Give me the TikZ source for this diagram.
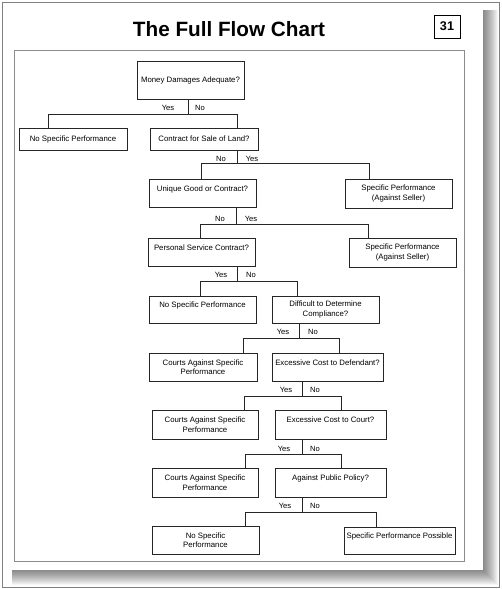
\documentclass[tikz,border=0pt]{standalone}
\usepackage{fontspec}
\setmainfont{Liberation Sans}
\begin{document}
\begin{tikzpicture}[x=1pt,y=-1pt,
  bx/.style={draw=black!85, line width=0.8pt, inner sep=0pt, align=center,
    font=\fontsize{7.8}{9.5}\selectfont, fill=white},
  lbl/.style={font=\fontsize{7.6}{9}\selectfont, inner sep=0pt},
  conn/.style={draw=black!85, line width=0.8pt}]
\useasboundingbox (0,0) rectangle (501,589);
% page shadow
\foreach \k in {1,...,15} \fill[black,opacity=0.041] (12,10) rectangle (483+\k,570+\k);
\fill[white] (2,2) rectangle (483,570);
\draw[black!50, line width=0.8pt] (2,2) rectangle (499.5,587);
% inner frame
\draw[black!45, line width=0.8pt] (14,50) rectangle (464,561);
% title
\node[font=\fontsize{20.7}{24}\selectfont\bfseries, anchor=base, inner sep=0pt] (title) at (229,36) {The Full Flow Chart};
\node[draw, line width=1pt, minimum width=26pt, minimum height=23pt, inner sep=0pt,
  font=\fontsize{12.6}{14}\selectfont\bfseries] (num) at (447,26.5) {31};
% boxes
\node[bx, minimum width=107pt, minimum height=38pt] (q1) at (190.5,80) {Money Damages Adequate?};
\node[bx, minimum width=108pt, minimum height=22pt] (nsp1) at (73,139) {No Specific Performance};
\node[bx, minimum width=108pt, minimum height=22pt] (q2) at (204,139) {Contract for Sale of Land?};
\node[bx, minimum width=107pt, minimum height=28pt] (q3) at (202.5,193) {Unique Good or Contract?\\\mbox{}};
\node[bx, minimum width=107pt, minimum height=29pt] (sp1) at (398.5,193.5) {Specific Performance\\(Against Seller)};
\node[bx, minimum width=107pt, minimum height=28pt] (q4) at (201.5,252) {Personal Service Contract?\\\mbox{}};
\node[bx, minimum width=107pt, minimum height=29pt] (sp2) at (402.5,252.5) {Specific Performance\\(Against Seller)};
\node[bx, minimum width=107pt, minimum height=27pt] (nsp2) at (202.5,309.5) {No Specific Performance\\\mbox{}};
\node[bx, minimum width=107pt, minimum height=27pt] (q5) at (325.5,309.5) {Difficult to Determine\\Compliance?};
\node[bx, minimum width=108pt, minimum height=28pt] (cas1) at (203,367) {Courts Against Specific\\Performance};
\node[bx, minimum width=111pt, minimum height=28pt] (q6) at (327.5,367) {Excessive Cost to Defendant?\\\mbox{}};
\node[bx, minimum width=106pt, minimum height=29pt] (cas2) at (205,424.5) {Courts Against Specific\\Performance};
\node[bx, minimum width=111pt, minimum height=29pt] (q7) at (330.5,424.5) {Excessive Cost to Court?\\\mbox{}};
\node[bx, minimum width=106pt, minimum height=29pt] (cas3) at (205,482.5) {Courts Against Specific\\Performance};
\node[bx, minimum width=111pt, minimum height=29pt] (q8) at (330.5,482.5) {Against Public Policy?\\\mbox{}};
\node[bx, minimum width=107pt, minimum height=28pt] (nsp3) at (205.5,540) {No Specific\\Performance};
\node[bx, minimum width=111pt, minimum height=27pt] (spp) at (399.5,540.5) {Specific Performance Possible\\\mbox{}};
% branch 1
\coordinate (j1) at (188,114); \coordinate (l1) at (48,114); \coordinate (r1) at (237,114);
\draw[conn] (q1.south -| j1) -- (j1);
\draw[conn] (nsp1.north -| l1) -- (l1) -- (r1) -- (q2.north -| r1);
\node[lbl] (y1) at (168,108) {Yes}; \node[lbl] (n1) at (200,108) {No};
% branch 2
\coordinate (j2) at (237,163); \coordinate (l2) at (201,163); \coordinate (r2) at (369,163);
\draw[conn] (q2.south -| j2) -- (j2);
\draw[conn] (q3.north -| l2) -- (l2) -- (r2) -- (sp1.north -| r2);
\node[lbl] (n2) at (221,159) {No}; \node[lbl] (y2) at (252,159) {Yes};
% branch 3
\coordinate (j3) at (236,224); \coordinate (l3) at (200,224); \coordinate (r3) at (368,224);
\draw[conn] (q3.south -| j3) -- (j3);
\draw[conn] (q4.north -| l3) -- (l3) -- (r3) -- (sp2.north -| r3);
\node[lbl] (n3) at (220,219) {No}; \node[lbl] (y3) at (251,219) {Yes};
% branch 4
\coordinate (j4) at (237,281); \coordinate (l4) at (200,281); \coordinate (r4) at (297,281);
\draw[conn] (q4.south -| j4) -- (j4);
\draw[conn] (nsp2.north -| l4) -- (l4) -- (r4) -- (q5.north -| r4);
\node[lbl] (y4) at (221,275) {Yes}; \node[lbl] (n4) at (251,275) {No};
% branch 5
\coordinate (j5) at (299,338); \coordinate (l5) at (243,338); \coordinate (r5) at (339,338);
\draw[conn] (q5.south -| j5) -- (j5);
\draw[conn] (cas1.north -| l5) -- (l5) -- (r5) -- (q6.north -| r5);
\node[lbl] (y5) at (283,332) {Yes}; \node[lbl] (n5) at (313,332) {No};
% branch 6
\coordinate (j6) at (302,396); \coordinate (l6) at (244,396); \coordinate (r6) at (341,396);
\draw[conn] (q6.south -| j6) -- (j6);
\draw[conn] (cas2.north -| l6) -- (l6) -- (r6) -- (q7.north -| r6);
\node[lbl] (y6) at (286,390) {Yes}; \node[lbl] (n6) at (315,390) {No};
% branch 7
\coordinate (j7) at (302,454); \coordinate (l7) at (245,454); \coordinate (r7) at (341,454);
\draw[conn] (q7.south -| j7) -- (j7);
\draw[conn] (cas3.north -| l7) -- (l7) -- (r7) -- (q8.north -| r7);
\node[lbl] (y7) at (284,449) {Yes}; \node[lbl] (n7) at (315,449) {No};
% branch 8
\coordinate (j8) at (302,512); \coordinate (l8) at (245,512); \coordinate (r8) at (376,512);
\draw[conn] (q8.south -| j8) -- (j8);
\draw[conn] (nsp3.north -| l8) -- (l8) -- (r8) -- (spp.north -| r8);
\node[lbl] (y8) at (285,506) {Yes}; \node[lbl] (n8) at (315,506) {No};
\end{tikzpicture}
\end{document}
